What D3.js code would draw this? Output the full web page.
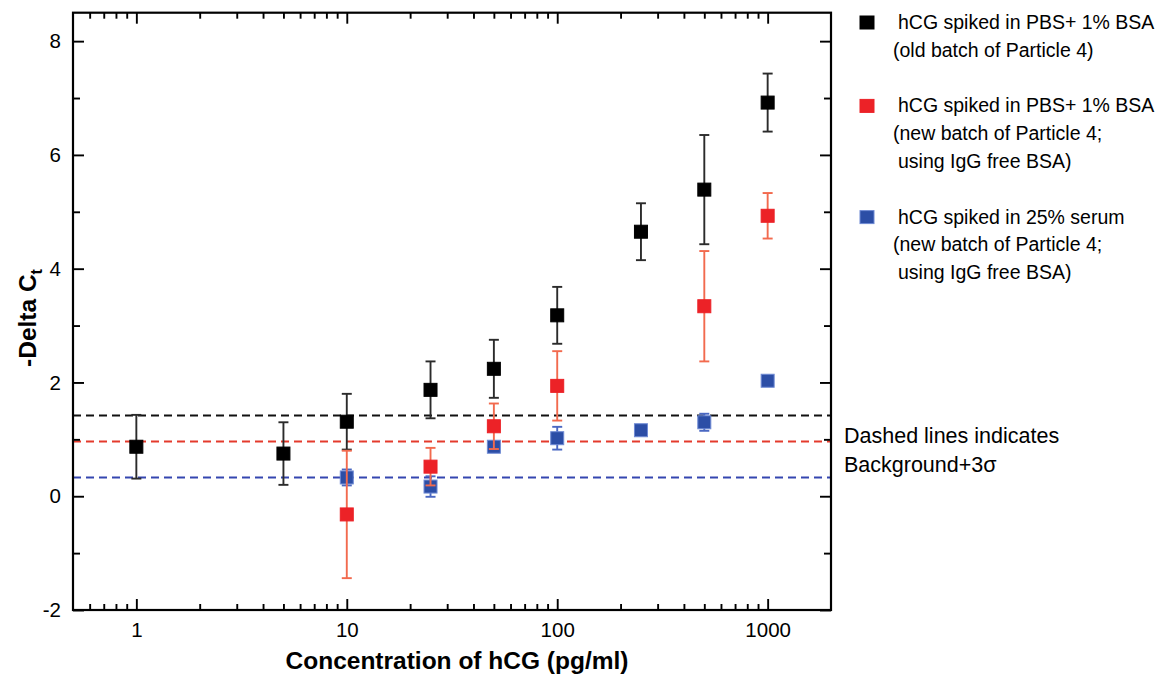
<!DOCTYPE html>
<html>
<head>
<meta charset="utf-8">
<script src="https://cdn.jsdelivr.net/npm/d3@7"></script>
<style>
  html, body { margin: 0; padding: 0; background: #fff; }
  svg { display: block; font-family: "Liberation Sans", Arial, sans-serif; }
</style>
</head>
<body>
<svg id="chart" width="1161" height="677"></svg>
<script>
// ---------------- data ----------------
const concOld = [1, 5, 10, 25, 50, 100, 250, 500, 1000];
const blackVals = [0.87, 0.75, 1.31, 1.87, 2.24, 3.18, 4.65, 5.39, 6.92];
const blackErr  = [0.56, 0.55, 0.49, 0.50, 0.51, 0.50, 0.50, 0.96, 0.51];

const concRed = [10, 25, 50, 100, 500, 1000];
const redVals = [-0.32, 0.52, 1.23, 1.94, 3.34, 4.93];
const redErr  = [1.12, 0.33, 0.40, 0.61, 0.97, 0.40];

const concBlue = [10, 25, 50, 100, 250, 500, 1000];
const blueVals = [0.33, 0.17, 0.87, 1.02, 1.16, 1.30, 2.03];
const blueErr  = [0.14, 0.18, 0.08, 0.20, 0.07, 0.15, 0.08];

const thresholds = [1.42, 0.96, 0.33];

const xTickValues = [1, 10, 100, 1000];
const xMinorValues = [0.6, 0.7, 0.8, 0.9, 2, 3, 4, 5, 6, 7, 8, 9, 20, 30, 40, 50, 60, 70, 80, 90,
                      200, 300, 400, 500, 600, 700, 800, 900];
const yTickValues = [-2, 0, 2, 4, 6, 8];
const yMinorValues = [-1, 1, 3, 5, 7];

const legendLines = [
  ["hCG spiked in PBS+ 1% BSA", "(old batch of Particle 4)"],
  ["hCG spiked in PBS+ 1% BSA", "(new batch of Particle 4;", "using IgG free BSA)"],
  ["hCG spiked in 25% serum", "(new batch of Particle 4;", "using IgG free BSA)"]
];

// ---------------- styles ----------------
const colors = {
  black: { fill: "#000000", stroke: "#000000", err: "#2b2b2b", dash: "#111111" },
  red:   { fill: "#ec2227", stroke: "#ec2227", err: "#f26a4e", dash: "#e43a2c" },
  blue:  { fill: "#2c4ea6", stroke: "#6f8ad4", err: "#4a68c2", dash: "#3546b0" }
};

const X0 = 73, X1 = 831, Y0 = 12.7, Y1 = 610;
const svg = d3.select("#chart");

const x = d3.scaleLog().domain([0.5, 2000]).range([X0, X1]);
const y = d3.scaleLinear().domain([-2, 8.5]).range([Y1, Y0]);
const plainFmt = d => String(d);

// ---------------- dashed threshold lines ----------------
const dashColors = [colors.black.dash, colors.red.dash, colors.blue.dash];
svg.append("g").selectAll("line").data(thresholds).join("line")
  .attr("x1", X0).attr("x2", X1)
  .attr("y1", d => y(d)).attr("y2", d => y(d))
  .attr("stroke", (d, i) => dashColors[i])
  .attr("stroke-width", 2)
  .attr("stroke-dasharray", "8,5");

// ---------------- series ----------------
function drawSeries(xs, vs, es, c) {
  const g = svg.append("g");
  const pts = xs.map((xv, i) => ({ x: xv, v: vs[i], e: es[i] }));
  const cap = 5;
  pts.forEach(p => {
    const cx = x(p.x);
    g.append("line").attr("x1", cx).attr("x2", cx)
      .attr("y1", y(p.v - p.e)).attr("y2", y(p.v + p.e))
      .attr("stroke", c.err).attr("stroke-width", 1.9);
    [p.v - p.e, p.v + p.e].forEach(w => {
      g.append("line").attr("x1", cx - cap).attr("x2", cx + cap)
        .attr("y1", y(w)).attr("y2", y(w))
        .attr("stroke", c.err).attr("stroke-width", 1.9);
    });
  });
  const s = 13;
  g.selectAll("rect").data(pts).join("rect")
    .attr("x", d => x(d.x) - s / 2).attr("y", d => y(d.v) - s / 2)
    .attr("width", s).attr("height", s)
    .attr("fill", c.fill).attr("stroke", c.stroke).attr("stroke-width", 1);
  return g;
}
drawSeries(concOld, blackVals, blackErr, colors.black);
drawSeries(concBlue, blueVals, blueErr, colors.blue);
drawSeries(concRed, redVals, redErr, colors.red);

// ---------------- axes ----------------
const axisFont = 20.5;
function styleAxis(g) {
  g.select(".domain").remove();
  g.selectAll(".tick line").attr("stroke", "#000").attr("stroke-width", 1.9);
  g.selectAll("text").attr("fill", "#000").attr("font-size", axisFont)
    .attr("font-family", "Liberation Sans, Arial, sans-serif");
}
// bottom
svg.append("g").attr("transform", `translate(0,${Y1})`)
  .call(d3.axisBottom(x).tickValues(xTickValues).tickFormat(plainFmt)
    .tickSizeInner(-11).tickSizeOuter(0).tickPadding(12))
  .call(styleAxis);
svg.append("g").attr("transform", `translate(0,${Y1})`)
  .call(d3.axisBottom(x).tickValues(xMinorValues).tickFormat("")
    .tickSizeInner(-6).tickSizeOuter(0))
  .call(styleAxis);
// top
svg.append("g").attr("transform", `translate(0,${Y0})`)
  .call(d3.axisTop(x).tickValues(xTickValues).tickFormat("")
    .tickSizeInner(-11).tickSizeOuter(0))
  .call(styleAxis);
svg.append("g").attr("transform", `translate(0,${Y0})`)
  .call(d3.axisTop(x).tickValues(xMinorValues).tickFormat("")
    .tickSizeInner(-6).tickSizeOuter(0))
  .call(styleAxis);
// left
svg.append("g").attr("transform", `translate(${X0},0)`)
  .call(d3.axisLeft(y).tickValues(yTickValues).tickFormat(plainFmt)
    .tickSizeInner(-11).tickSizeOuter(0).tickPadding(12))
  .call(styleAxis);
svg.append("g").attr("transform", `translate(${X0},0)`)
  .call(d3.axisLeft(y).tickValues(yMinorValues).tickFormat("")
    .tickSizeInner(-7).tickSizeOuter(0))
  .call(styleAxis);
// right
svg.append("g").attr("transform", `translate(${X1},0)`)
  .call(d3.axisRight(y).tickValues(yTickValues).tickFormat("")
    .tickSizeInner(-11).tickSizeOuter(0))
  .call(styleAxis);
svg.append("g").attr("transform", `translate(${X1},0)`)
  .call(d3.axisRight(y).tickValues(yMinorValues).tickFormat("")
    .tickSizeInner(-7).tickSizeOuter(0))
  .call(styleAxis);

// frame
svg.append("rect").attr("x", X0).attr("y", Y0)
  .attr("width", X1 - X0).attr("height", Y1 - Y0)
  .attr("fill", "none").attr("stroke", "#000").attr("stroke-width", 2.2);

// ---------------- axis titles ----------------
svg.append("text")
  .attr("x", 457).attr("y", 669)
  .attr("text-anchor", "middle")
  .attr("font-size", 24.5).attr("font-weight", "bold")
  .text("Concentration of hCG (pg/ml)");

const yt = svg.append("text")
  .attr("transform", "translate(36,318) rotate(-90)")
  .attr("text-anchor", "middle")
  .attr("font-size", 24.5).attr("font-weight", "bold");
yt.append("tspan").text("-Delta C");
yt.append("tspan").attr("font-size", 16).attr("dy", 6).text("t");

// ---------------- legend ----------------
const legendColors = [colors.black, colors.red, colors.blue];
const lineH = 27.8;
let baseline = 29;
const lg = svg.append("g");
legendLines.forEach((lines, gi) => {
  const c = legendColors[gi];
  lg.append("rect").attr("x", 860).attr("y", baseline - 13)
    .attr("width", 14).attr("height", 13)
    .attr("fill", c.fill).attr("stroke", c.stroke).attr("stroke-width", 1);
  lines.forEach((t, li) => {
    lg.append("text")
      .attr("x", t.startsWith("(") ? 893 : 898)
      .attr("y", baseline + li * lineH)
      .attr("font-size", 19.5)
      .text(t);
  });
  baseline += (lines.length + 1) * lineH;
});

// note
svg.append("text").attr("x", 844).attr("y", 443).attr("font-size", 21.5)
  .text("Dashed lines indicates");
svg.append("text").attr("x", 844).attr("y", 472).attr("font-size", 21.5)
  .text("Background+3σ");
</script>
</body>
</html>
